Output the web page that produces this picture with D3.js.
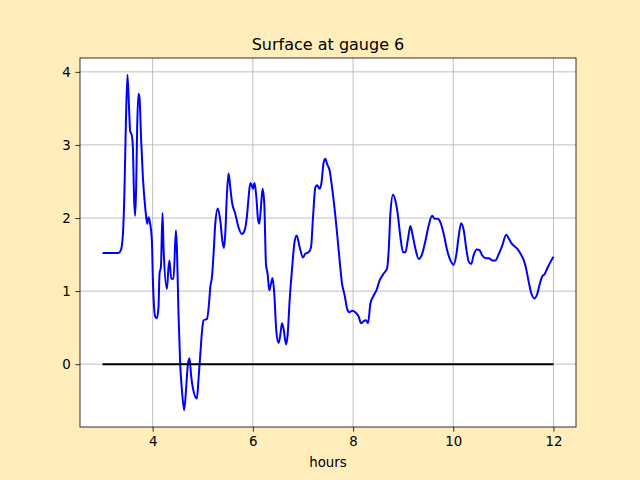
<!DOCTYPE html>
<html><head><meta charset="utf-8">
<script src="https://cdn.jsdelivr.net/npm/d3@7"></script>
<style>body{margin:0;background:#ffeebb;} svg{display:block;}</style>
</head><body>
<svg id="c" width="640" height="480"></svg>
<script>
const hours = [3.0,3.318,3.366,3.406,3.437,3.465,3.497,3.531,3.551,3.585,3.605,3.631,3.651,3.671,3.691,3.717,3.737,3.771,3.805,3.851,3.891,3.917,3.951,3.985,4.005,4.051,4.085,4.117,4.137,4.165,4.197,4.217,4.285,4.317,4.337,4.371,4.417,4.464,4.484,4.516,4.550,4.584,4.630,4.670,4.704,4.736,4.770,4.804,4.884,4.916,4.950,4.984,5.016,5.084,5.130,5.150,5.184,5.216,5.250,5.300,5.349,5.395,5.423,5.449,5.483,5.515,5.549,5.583,5.649,5.715,5.783,5.835,5.883,5.915,5.949,5.982,6.002,6.034,6.068,6.102,6.128,6.162,6.194,6.228,6.262,6.294,6.328,6.362,6.394,6.428,6.468,6.514,6.548,6.582,6.614,6.662,6.694,6.734,6.782,6.828,6.874,6.934,7.001,7.047,7.113,7.161,7.201,7.247,7.281,7.333,7.367,7.413,7.447,7.481,7.533,7.581,7.647,7.713,7.781,7.833,7.881,7.927,7.980,8.046,8.113,8.160,8.212,8.260,8.300,8.346,8.412,8.466,8.532,8.612,8.679,8.715,8.745,8.798,8.845,8.891,8.945,8.999,9.045,9.091,9.145,9.191,9.245,9.311,9.379,9.445,9.511,9.578,9.630,9.690,9.744,9.810,9.878,9.944,10.010,10.064,10.110,10.158,10.210,10.264,10.310,10.358,10.410,10.470,10.524,10.577,10.643,10.709,10.777,10.843,10.909,10.977,11.057,11.109,11.157,11.209,11.277,11.343,11.409,11.463,11.508,11.562,11.622,11.676,11.728,11.776,11.822,11.876,11.942,12.0];
const surface = [1.52,1.52,1.56,1.77,2.36,3.27,3.96,3.47,3.19,3.13,2.97,2.24,2.03,2.42,3.24,3.70,3.65,3.06,2.56,2.15,1.92,2.01,1.92,1.69,1.15,0.65,0.63,0.78,1.24,1.33,2.07,1.6,1.03,1.33,1.42,1.17,1.17,1.83,1.6,0.69,0.0,-0.35,-0.63,-0.31,0.0,0.08,-0.17,-0.33,-0.47,-0.2,0.12,0.44,0.6,0.62,0.87,1.05,1.19,1.51,1.92,2.13,1.97,1.67,1.59,1.78,2.33,2.61,2.42,2.22,2.06,1.87,1.78,1.83,2.03,2.28,2.48,2.44,2.40,2.48,2.3,1.99,1.92,2.15,2.40,2.2,1.37,1.24,1.01,1.10,1.18,0.96,0.46,0.29,0.40,0.56,0.48,0.27,0.40,0.87,1.30,1.65,1.76,1.60,1.46,1.51,1.53,1.60,2.01,2.42,2.45,2.40,2.47,2.76,2.81,2.74,2.65,2.42,2.03,1.56,1.10,0.94,0.76,0.71,0.73,0.71,0.65,0.56,0.59,0.6,0.56,0.83,0.94,1.01,1.15,1.24,1.31,1.60,2.06,2.32,2.24,2.06,1.74,1.53,1.53,1.69,1.89,1.76,1.58,1.44,1.51,1.69,1.90,2.03,1.99,1.99,1.94,1.78,1.56,1.42,1.36,1.51,1.76,1.93,1.83,1.56,1.40,1.37,1.50,1.57,1.56,1.49,1.45,1.45,1.42,1.42,1.51,1.62,1.77,1.72,1.66,1.62,1.58,1.51,1.42,1.28,1.12,0.96,0.90,0.96,1.10,1.20,1.23,1.31,1.40,1.47];
const zeroLine = [[3,0],[12,0]];
const xTicks = [4,6,8,10,12];
const yTicks = [0,1,2,3,4];
const title = "Surface at gauge 6";
const xLabel = "hours";

const svg = d3.select("#c");
const L=80, R=576, T=58, B=427;
svg.append("rect").attr("width",640).attr("height",480).attr("fill","#ffeebb");
svg.append("rect").attr("x",L).attr("y",T).attr("width",R-L).attr("height",B-T).attr("fill","#fff");

const xmin=3, xmax=12, xp=(xmax-xmin)*0.05;
const ymin=d3.min(surface), ymax=d3.max(surface), yp=(ymax-ymin)*0.05;
const x = d3.scaleLinear().domain([xmin-xp, xmax+xp]).range([L,R]);
const y = d3.scaleLinear().domain([ymin-yp, ymax+yp]).range([B,T]);

const font = "DejaVu Sans, sans-serif";
// grid
svg.append("g").selectAll("line").data(xTicks).join("line")
  .attr("x1",d=>x(d)).attr("x2",d=>x(d)).attr("y1",T).attr("y2",B)
  .attr("stroke","#b0b0b0").attr("stroke-width",0.8);
svg.append("g").selectAll("line").data(yTicks).join("line")
  .attr("y1",d=>y(d)).attr("y2",d=>y(d)).attr("x1",L).attr("x2",R)
  .attr("stroke","#b0b0b0").attr("stroke-width",0.8);

const clip = svg.append("clipPath").attr("id","clip").append("rect")
  .attr("x",L).attr("y",T).attr("width",R-L).attr("height",B-T);

const line = d3.line().x(d=>x(d[0])).y(d=>y(d[1])).curve(d3.curveMonotoneX);
svg.append("path").datum(hours.map((h,i)=>[h,surface[i]]))
  .attr("d",line).attr("fill","none").attr("stroke","#0000ff").attr("stroke-width",2)
  .attr("stroke-linejoin","round").attr("clip-path","url(#clip)");
svg.append("path").datum(zeroLine)
  .attr("d",d3.line().x(d=>x(d[0])).y(d=>y(d[1]))).attr("fill","none")
  .attr("stroke","#000").attr("stroke-width",2);

// axes
const xa = svg.append("g").attr("transform",`translate(0,${B})`)
  .call(d3.axisBottom(x).tickValues(xTicks).tickSize(4.67).tickPadding(4.67).tickFormat(d3.format("d")));
const ya = svg.append("g").attr("transform",`translate(${L},0)`)
  .call(d3.axisLeft(y).tickValues(yTicks).tickSize(4.67).tickPadding(4.67).tickFormat(d3.format("d")));
[xa,ya].forEach(a=>{
  a.select(".domain").remove();
  a.selectAll(".tick line").attr("stroke","#000").attr("stroke-width",0.8);
  a.selectAll(".tick text").attr("font-family",font).attr("font-size","13.33px").attr("fill","#000");
});
svg.append("rect").attr("x",L).attr("y",T).attr("width",R-L).attr("height",B-T)
  .attr("fill","none").attr("stroke","#000").attr("stroke-width",0.8);

svg.append("text").attr("x",(L+R)/2).attr("y",T-8).attr("text-anchor","middle")
  .attr("font-family",font).attr("font-size","16px").attr("fill","#000").text(title);
svg.append("text").attr("x",(L+R)/2).attr("y",467).attr("text-anchor","middle")
  .attr("font-family",font).attr("font-size","13.33px").attr("fill","#000").text(xLabel);
</script>
</body></html>
